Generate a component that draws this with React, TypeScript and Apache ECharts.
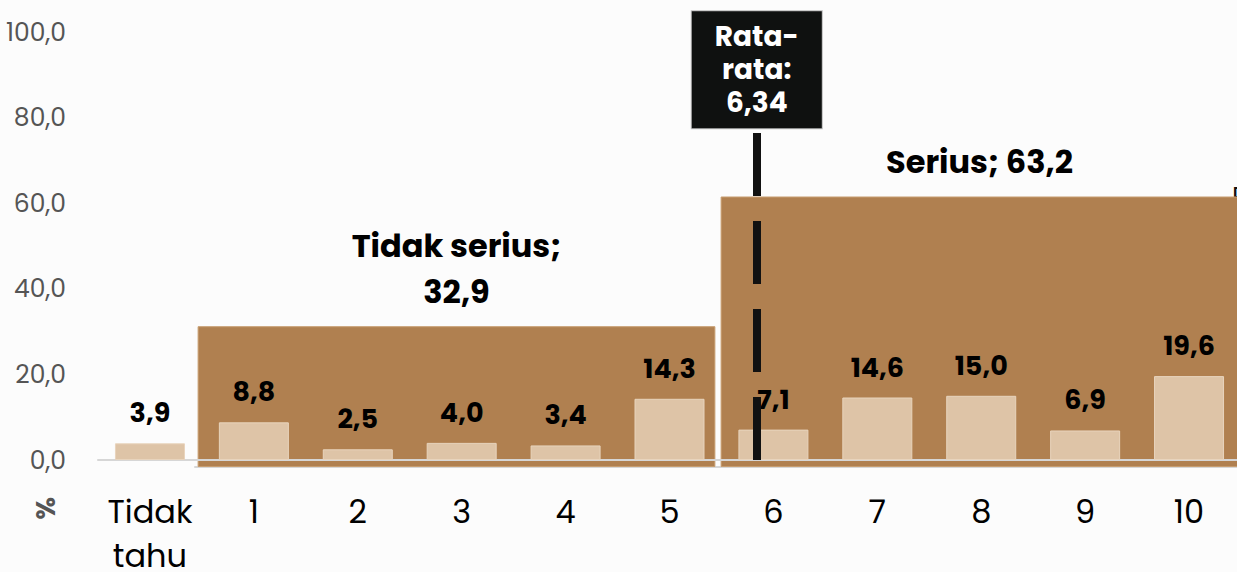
import React, { useEffect, useRef } from "react";
import * as echarts from "echarts";

const categories = ["Tidak\ntahu", "1", "2", "3", "4", "5", "6", "7", "8", "9", "10"];
const values = [3.9, 8.8, 2.5, 4.0, 3.4, 14.3, 7.1, 14.6, 15.0, 6.9, 19.6];
const groupNames = ["Tidak serius", "Serius"];
const groupValues = [32.9, 63.2];
const meanValue = 6.34;
const meanLabel = "Rata-\nrata:\n6,34";
const yTicks = [0, 20, 40, 60, 80, 100];

const FONT = "Poppins, Inter, 'Noto Sans', sans-serif";
const fmt1 = (v: number) => v.toFixed(1).replace(".", ",");

export default function App() {
  const ref = useRef<HTMLDivElement>(null);
  useEffect(() => {
    if (!ref.current) return;
    const chart = echarts.init(ref.current, null, { renderer: "svg" });
    chart.setOption({
      animation: false,
      backgroundColor: "#fcfcfc",
      textStyle: { fontFamily: FONT },
      grid: [
        { left: 98, right: -4, top: 32, bottom: 112, containLabel: false, outerBoundsMode: "none" },
        { left: 195, right: -4, top: 39, bottom: 105, containLabel: false, outerBoundsMode: "none" },
      ],
      xAxis: [
        {
          type: "category",
          gridIndex: 0,
          data: categories,
          z: 5,
          axisLine: { show: true, lineStyle: { color: "#d6d6d6", width: 2 } },
          axisTick: { show: false },
          axisLabel: { color: "#000", fontSize: 32, lineHeight: 44, margin: 29, fontFamily: FONT, interval: 0 },
        },
        { type: "value", gridIndex: 0, min: 0, max: 11, show: false },
        {
          type: "category",
          gridIndex: 1,
          data: groupNames,
          axisLine: { show: true, lineStyle: { color: "#d6d6d6", width: 2 } },
          axisTick: { show: false },
          axisLabel: { show: false },
        },
      ],
      yAxis: [
        {
          type: "value",
          gridIndex: 0,
          min: 0,
          max: 100,
          interval: 20,
          splitLine: { show: false },
          axisLine: { show: false },
          axisTick: { show: false },
          axisLabel: {
            color: "#555",
            fontSize: 25,
            margin: 32,
            fontFamily: FONT,
            formatter: (v: number) => (yTicks.includes(v) ? fmt1(v) : ""),
          },
        },
        { type: "value", gridIndex: 1, min: 0, max: 100, show: false },
      ],
      series: [
        {
          type: "bar",
          xAxisIndex: 2,
          yAxisIndex: 1,
          z: 1,
          barCategoryGap: "1%",
          data: groupValues,
          itemStyle: { color: "#b08050", borderColor: "#c79d70", borderWidth: 1 },
          label: {
            show: true,
            position: "top",
            distance: 12,
            color: "#000",
            fontSize: 32,
            fontWeight: "bold",
            lineHeight: 46,
            fontFamily: FONT,
            formatter: (p: any) =>
              p.dataIndex === 0 ? `${p.name};\n${fmt1(p.value)}` : `${p.name}; ${fmt1(p.value)}`,
          },
        },
        {
          type: "bar",
          xAxisIndex: 0,
          yAxisIndex: 0,
          z: 6,
          barWidth: 70,
          data: values,
          itemStyle: { color: "#dec4a7", borderColor: "#e8d4bd", borderWidth: 1 },
          label: {
            show: true,
            position: "top",
            distance: 17,
            color: "#000",
            fontSize: 27,
            fontWeight: "bold",
            fontFamily: FONT,
            formatter: (p: any) => fmt1(p.value),
          },
        },
        {
          type: "scatter",
          xAxisIndex: 1,
          yAxisIndex: 0,
          z: 10,
          data: [],
          markLine: {
            silent: true,
            z: 20,
            symbol: ["none", "none"],
            lineStyle: { color: "#111", width: 8, type: [63, 25] },
            label: {
              show: true,
              position: "end",
              distance: 4,
              formatter: meanLabel,
              color: "#fff",
              backgroundColor: "#0f1110",
              borderColor: "#bbb",
              borderWidth: 1,
              fontSize: 28,
              fontWeight: "bold",
              lineHeight: 33,
              width: 90,
              align: "center",
              padding: [9, 20, 9, 20],
              fontFamily: FONT,
            },
            data: [[{ coord: [meanValue, 0] }, { coord: [meanValue, 76.6] }]],
          },
        },
      ],
      graphic: [
        {
          type: "text",
          left: 32,
          top: 497,
          rotation: -Math.PI / 2,
          originX: 0,
          originY: 0,
          style: { text: "%", fill: "#555", fontSize: 26, fontWeight: "bold", fontFamily: FONT },
        },
        {
          type: "text",
          left: 1232,
          top: 184,
          style: { text: "E", fill: "#111", fontSize: 26, fontFamily: FONT },
        },
      ],
    });
    return () => chart.dispose();
  }, []);
  return (
    <div
      ref={ref}
      style={{ position: "fixed", left: 0, top: 0, width: 1237, height: 572 }}
    />
  );
}
